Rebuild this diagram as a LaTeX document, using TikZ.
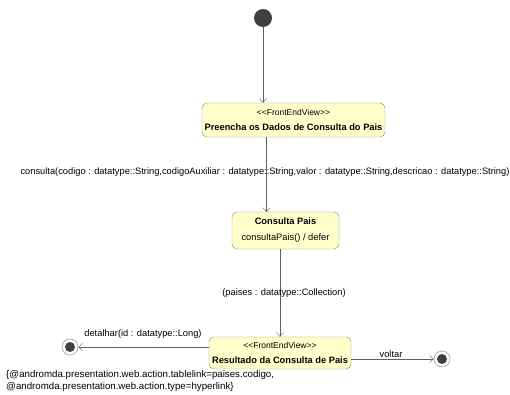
\documentclass[tikz,border=0pt]{standalone}
\usepackage{fontspec}
\setmainfont{Liberation Sans}
\usetikzlibrary{arrows.meta}
\definecolor{statefill}{HTML}{FFFFCC}
\definecolor{stateline}{HTML}{8C8C6E}
\definecolor{flowline}{HTML}{606060}
\definecolor{dot}{HTML}{404040}
\tikzset{
  state/.style = {draw = stateline, fill = statefill, rounded corners = 5pt, inner sep = 0pt, align = center},
  startdot/.style = {circle, fill = dot, inner sep = 0pt, minimum size = 18pt},
  enddot/.style = {circle, draw = gray, fill = white, inner sep = 0pt, minimum size = 16pt,
    path picture = {\fill [dot] (path picture bounding box.center) circle (5pt);}},
  flow/.style = {draw = flowline, -{Straight Barb[length=4pt,width=7pt]}},
  lbl/.style = {font = \fontsize{9.3}{11}\selectfont, inner sep = 0pt}
}
\newcommand{\stereo}{{\fontsize{8.5}{10}\selectfont <{}<FrontEndView>{}>}}
\begin{document}
\begin{tikzpicture}[x = 1pt, y = 1pt]
		\useasboundingbox (0,0) rectangle (510,395);
		\node (Ini) at (263,377) [startdot] {};
		
		\node (Preencha) at (293.5,275) [state, minimum width = 183pt, minimum height = 34pt]
		  {\stereo\\[2.5pt]{\fontsize{9.3}{11}\selectfont\bfseries Preencha os Dados de Consulta do Pais}};
		\node (Consulta) at (285.5,164.5) [state, minimum width = 107pt, minimum height = 37pt]
		  {{\fontsize{9.3}{11}\selectfont\bfseries Consulta Pais}\\[4pt]{\fontsize{9.3}{11}\selectfont consultaPais() / defer}};
		\node (Resultado) at (280,42) [state, minimum width = 142pt, minimum height = 32pt]
		  {\stereo\\[2.5pt]{\fontsize{9.3}{11}\selectfont\bfseries Resultado da Consulta de Pais}};
		
		\node (Detalhe) at (70,48) [enddot] {};
		\node (Voltar) at (442,36) [enddot] {};
		
		\coordinate (PreSouth) at (266.5,258);
		\coordinate (ConNorth) at (266.5,183);
		
		\draw [flow] (Ini) -- (Ini |- Preencha.north);
		\draw [flow] (PreSouth) -- (ConNorth);
		\draw [flow] (Resultado.north |- Consulta.south) -- (Resultado.north);
		\draw [flow] (Resultado.west |- Detalhe) -- (Detalhe);
		\draw [flow] (Resultado.east |- Voltar) -- (Voltar);
		
		\node (lConsulta) at (265,223) [lbl] {consulta(codigo : datatype::String,codigoAuxiliar : datatype::String,valor : datatype::String,descricao : datatype::String)};
		\node (lPaises) at (284,102) [lbl] {(paises : datatype::Collection)};
		\node (lDetalhe) at (143,61) [lbl] {detalhar(id : datatype::Long)};
		\node (lVoltar) at (391,41) [lbl] {voltar};
		\node (lTag) at (6,14) [lbl, anchor = west, align = left, font = \fontsize{9.7}{12}\selectfont] {\{@andromda.presentation.web.action.tablelink=paises.codigo,\\@andromda.presentation.web.action.type=hyperlink\}};
		\end{tikzpicture}
\end{document}
